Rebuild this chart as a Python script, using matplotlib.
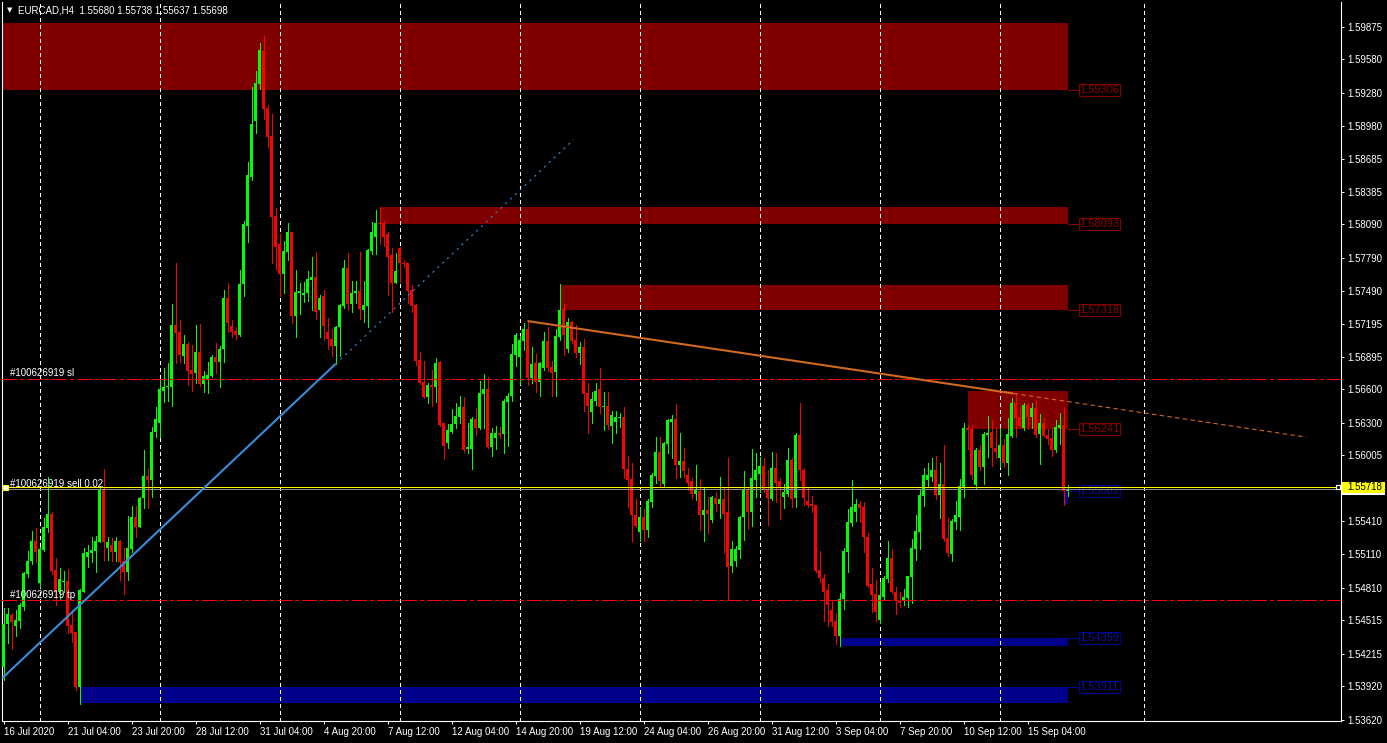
import numpy as np
import matplotlib
matplotlib.use("Agg")
import matplotlib.pyplot as plt
from matplotlib.patches import Rectangle
from matplotlib.transforms import blended_transform_factory

plt.rcParams['font.family'] = ['Liberation Sans', 'DejaVu Sans']

# ---------------- data ----------------
symbol = "EURCAD,H4"
last_ohlc = [1.55680, 1.55738, 1.55637, 1.55698]   # header values of the current bar

# H4 candles, prices in units of 0.0001 (bar 0 = 16 Jul 2020 12:00)
open_e4 = [15409,15448,15456,15446,15451,15464,15493,15505,15523,15485,
           15515,15535,15548,15497,15477,15486,15487,15447,15441,15391,
           15477,15509,15512,15514,15522,15570,15517,15520,15513,15523,
           15505,15495,15516,15545,15536,15562,15582,15578,15622,15630,
           15659,15662,15662,15718,15712,15690,15701,15678,15675,15694,
           15665,15669,15672,15689,15685,15697,15743,15717,15713,15709,
           15755,15808,15852,15902,15936,15966,15914,15889,15817,15791,
           15764,15784,15802,15726,15747,15745,15747,15759,15762,15732,
           15744,15712,15706,15699,15716,15735,15770,15737,15747,15749,
           15732,15735,15785,15798,15810,15810,15800,15781,15756,15788,
           15774,15774,15750,15736,15687,15667,15653,15664,15662,15685,
           15630,15612,15622,15629,15635,15644,15606,15606,15633,15625,
           15656,15660,15608,15616,15621,15620,15649,15654,15691,15689,
           15704,15715,15670,15684,15667,15679,15704,15680,15676,15707,
           15733,15697,15721,15705,15693,15698,15657,15640,15650,15660,
           15644,15645,15627,15631,15634,15635,15588,15579,15547,15531,
           15545,15533,15558,15582,15604,15575,15611,15631,15633,15592,
           15595,15583,15577,15566,15568,15547,15551,15542,15562,15557,
           15561,15549,15501,15505,15515,15545,15569,15549,15578,15584,
           15591,15570,15561,15589,15577,15563,15566,15596,15562,15619,
           15587,15559,15557,15556,15497,15490,15479,15461,15451,15437,
           15471,15513,15539,15549,15557,15554,15527,15484,15475,15452,
           15473,15489,15508,15477,15469,15469,15472,15491,15516,15531,
           15564,15578,15581,15587,15565,15575,15526,15511,15540,15545,
           15572,15625,15624,15574,15605,15590,15619,15622,15607,15598,
           15610,15594,15618,15648,15635,15625,15646,15635,15643,15620,
           15630,15619,15616,15605,15625,15628,15568]
high_e4 = [15463,15463,15458,15461,15467,15495,15514,15532,15535,15518,
           15544,15581,15549,15508,15499,15496,15498,15461,15441,15480,
           15517,15520,15527,15528,15571,15588,15527,15526,15527,15524,
           15517,15546,15555,15555,15563,15605,15589,15626,15644,15669,
           15679,15684,15737,15774,15723,15709,15703,15700,15718,15719,
           15677,15685,15691,15702,15699,15750,15756,15723,15716,15768,
           15812,15865,15933,15948,15973,15979,15917,15909,15824,15800,
           15794,15810,15802,15768,15756,15757,15767,15780,15784,15745,
           15750,15725,15715,15717,15737,15777,15783,15758,15758,15784,
           15758,15787,15811,15822,15825,15812,15802,15788,15783,15789,
           15777,15774,15754,15737,15694,15686,15666,15678,15688,15686,
           15630,15629,15642,15648,15654,15653,15630,15635,15643,15668,
           15674,15671,15625,15627,15626,15651,15657,15701,15711,15708,
           15720,15722,15698,15692,15685,15712,15716,15686,15715,15755,
           15737,15725,15722,15718,15703,15706,15666,15658,15666,15679,
           15658,15658,15641,15641,15639,15644,15600,15594,15561,15554,
           15552,15561,15585,15617,15617,15613,15633,15637,15647,15621,
           15607,15589,15580,15592,15579,15572,15563,15564,15567,15581,
           15572,15598,15523,15519,15546,15586,15572,15606,15603,15599,
           15598,15587,15604,15603,15580,15575,15607,15598,15621,15648,
           15589,15572,15564,15556,15514,15493,15484,15469,15458,15476,
           15517,15552,15578,15561,15559,15558,15530,15499,15488,15486,
           15492,15523,15516,15482,15477,15480,15492,15525,15547,15570,
           15589,15594,15598,15600,15594,15610,15544,15543,15559,15579,
           15630,15628,15628,15607,15610,15622,15636,15632,15625,15625,
           15615,15634,15652,15657,15644,15648,15648,15648,15650,15638,
           15634,15624,15625,15632,15639,15644,15574]
low_e4 = [15398,15431,15426,15437,15445,15461,15491,15502,15504,15482,
          15514,15531,15493,15465,15470,15477,15440,15432,15389,15376,
          15477,15500,15504,15495,15522,15506,15506,15505,15505,15488,
          15475,15488,15513,15527,15536,15553,15553,15563,15617,15617,
          15649,15650,15645,15684,15685,15684,15664,15659,15666,15663,
          15658,15657,15671,15675,15662,15685,15712,15707,15706,15708,
          15744,15793,15849,15892,15931,15904,15879,15774,15769,15744,
          15747,15777,15720,15707,15728,15739,15740,15732,15724,15707,
          15705,15697,15690,15683,15690,15734,15732,15730,15738,15724,
          15721,15716,15782,15782,15791,15790,15745,15730,15756,15757,
          15771,15738,15730,15682,15665,15652,15648,15645,15649,15627,
          15597,15607,15621,15625,15630,15604,15603,15588,15619,15624,
          15625,15607,15600,15606,15616,15603,15609,15650,15681,15665,
          15696,15664,15666,15658,15654,15678,15677,15654,15654,15705,
          15691,15694,15702,15689,15683,15641,15621,15630,15646,15639,
          15623,15624,15612,15621,15626,15580,15554,15523,15536,15523,
          15523,15527,15554,15576,15572,15572,15603,15598,15580,15581,
          15581,15569,15562,15560,15533,15523,15530,15540,15550,15544,
          15512,15470,15495,15501,15508,15524,15534,15537,15563,15567,
          15567,15538,15560,15558,15543,15553,15564,15554,15554,15578,
          15556,15554,15549,15495,15486,15451,15446,15446,15430,15428,
          15462,15495,15537,15541,15540,15513,15482,15459,15451,15449,
          15470,15486,15476,15457,15464,15465,15464,15467,15506,15516,
          15555,15572,15577,15561,15544,15523,15510,15505,15534,15533,
          15563,15606,15579,15570,15587,15575,15599,15591,15598,15590,
          15590,15583,15617,15617,15625,15623,15624,15625,15617,15593,
          15617,15611,15600,15604,15611,15556,15564]
close_e4 = [15448,15457,15450,15452,15465,15494,15505,15523,15513,15516,
            15536,15548,15496,15477,15489,15487,15446,15440,15391,15479,
            15512,15513,15515,15523,15570,15522,15522,15513,15523,15504,
            15495,15517,15545,15536,15562,15582,15578,15622,15633,15660,
            15662,15663,15718,15711,15691,15701,15677,15674,15694,15665,
            15672,15673,15689,15685,15697,15743,15720,15712,15709,15755,
            15809,15854,15900,15937,15967,15913,15888,15816,15789,15764,
            15785,15802,15726,15748,15749,15747,15760,15762,15730,15743,
            15717,15706,15699,15716,15736,15770,15737,15747,15749,15733,
            15736,15786,15802,15810,15809,15798,15780,15756,15767,15774,
            15773,15749,15735,15686,15666,15653,15664,15662,15684,15628,
            15609,15623,15629,15636,15644,15605,15608,15633,15625,15657,
            15660,15608,15621,15621,15619,15650,15654,15692,15709,15705,
            15715,15670,15683,15667,15684,15704,15679,15675,15708,15732,
            15709,15721,15704,15693,15698,15656,15645,15651,15659,15644,
            15645,15628,15637,15635,15635,15588,15578,15547,15537,15545,
            15533,15559,15583,15604,15577,15612,15632,15633,15592,15595,
            15586,15576,15566,15569,15547,15551,15548,15563,15557,15561,
            15548,15500,15516,15516,15545,15569,15549,15580,15587,15591,
            15569,15562,15589,15576,15572,15567,15596,15561,15619,15587,
            15562,15556,15555,15496,15490,15477,15465,15450,15437,15471,
            15514,15540,15554,15557,15553,15527,15483,15474,15459,15474,
            15490,15508,15477,15469,15467,15473,15492,15517,15532,15565,
            15583,15583,15587,15565,15575,15525,15512,15541,15547,15573,
            15625,15623,15583,15605,15590,15620,15621,15607,15604,15610,
            15594,15620,15648,15634,15627,15646,15635,15643,15619,15630,
            15618,15615,15605,15626,15628,15568,15570]

date_tick_bars = [0, 16, 32, 48, 64, 80, 96, 112, 128, 144, 160, 176, 192, 208, 224, 240, 256]
date_tick_labels = ["16 Jul 2020", "21 Jul 04:00", "23 Jul 20:00", "28 Jul 12:00",
                    "31 Jul 04:00", "4 Aug 20:00", "7 Aug 12:00", "12 Aug 04:00",
                    "14 Aug 20:00", "19 Aug 12:00", "24 Aug 04:00", "26 Aug 20:00",
                    "31 Aug 12:00", "3 Sep 04:00", "7 Sep 20:00", "10 Sep 12:00",
                    "15 Sep 04:00"]
week_sep_bars = [9, 39, 69, 99, 129, 159, 189, 219, 249, 285]
price_ticks = [1.59875, 1.59580, 1.59280, 1.58980, 1.58685, 1.58385, 1.58090,
               1.57790, 1.57490, 1.57195, 1.56895, 1.56600, 1.56300, 1.56005,
               1.55410, 1.55110, 1.54810, 1.54515, 1.54215, 1.53920, 1.53620]

# zones: (start bar, top price, bottom price)
supply_zones = [(-1, 1.59910, 1.59306), (94, 1.58248, 1.58093),
                (139, 1.57544, 1.57318), (241, 1.56586, 1.56241)]
demand_zones = [(19, 1.53911, 1.53766), (209, 1.54359, 1.54286),
                (265, 1.55682, 1.55566)]
zone_end_bar = 266

order_id = "#100626919"
order_lots = "0.02"
order_open = 1.55718
order_sl = 1.56699
order_tp = 1.54697

# trend lines: anchor bars / prices
orange_bars = [131, 252.5]
orange_prices = [1.57218, 1.56564]
orange_ext_bar = 325.7
blue_bars = [-0.3, 83]
blue_prices = [1.53994, 1.56830]
blue_ext_bar = 142.5

# ---------------- styling ----------------
BULL = '#00FF00'
BEAR = '#FF0000'
ZRED = '#800000'
ZBLUE = '#00008B'
ZRED_TXT = '#8B0000'
ZBLUE_TXT = '#1010A0'

W, H = 1387, 743
fig = plt.figure(figsize=(W / 100, H / 100), dpi=100, facecolor='black')
ax = fig.add_axes([2 / W, 22 / H, 1339 / W, 719 / H])
ax.set_facecolor('black')
ax.set_xlim(-0.375, 334.375)
ax.set_ylim(1.536065, 1.600990)
px = (1.600990 - 1.536065) / 719.0   # price per pixel

o = np.array(open_e4, float) / 1e4
h = np.array(high_e4, float) / 1e4
l = np.array(low_e4, float) / 1e4
c = np.array(close_e4, float) / 1e4
o[-1], h[-1], l[-1], c[-1] = last_ohlc
n = len(o)
x = np.arange(n)

# zones
for (sb, top, bot) in supply_zones:
    ax.add_patch(Rectangle((sb, bot), zone_end_bar - sb, top - bot,
                           facecolor=ZRED, edgecolor='none', zorder=1))
for (sb, top, bot) in demand_zones:
    ax.add_patch(Rectangle((sb, bot), zone_end_bar - sb, top - bot,
                           facecolor=ZBLUE, edgecolor='none', zorder=1))

# weekly separators
ax.vlines(week_sep_bars, 1.536065, 1.600990, colors='white', lw=0.72,
          linestyles=(0, (3, 3)), antialiased=False, zorder=2)

# candles
up = c >= o
cols = np.where(up, BULL, BEAR)
lo_b = np.minimum(o, c)
hi_b = np.maximum(o, c)
hgt = np.maximum(hi_b - lo_b, px)
ax.vlines(x, l, h, colors=cols, lw=0.72, antialiased=False, zorder=3)
ax.bar(x, hgt, width=0.75, bottom=lo_b, color=cols, lw=0, antialiased=False, zorder=4)

# order lines
dashdot = (0, (14, 4, 3, 4))
ax.axhline(order_sl, color='#FF0000', lw=0.72, linestyle=dashdot, antialiased=False, zorder=5)
ax.axhline(order_tp, color='#FF0000', lw=0.72, linestyle=dashdot, antialiased=False, zorder=5)
ax.axhline(c[-1], color='#8C8C8C', lw=0.72, antialiased=False, zorder=5)
ax.axhline(order_open, color='#FFFF00', lw=0.72, antialiased=False, zorder=6)
ax.plot([0.4], [order_open], marker='s', ms=3.6, mfc='white', mec='#FFFF00', mew=0.8,
        zorder=7, clip_on=False)
ax.plot([333.6], [order_open], marker='s', ms=3.4, mfc='black', mec='white', mew=0.9,
        zorder=7, clip_on=False)

lbl_kw = dict(color='white', fontsize=7, ha='left', va='baseline',
              textcoords='offset points', zorder=8)
ax.annotate(f"{order_id} sl", xy=(1.6, order_sl), xytext=(0, 1.6), **lbl_kw)
ax.annotate(f"{order_id} sell {order_lots}", xy=(1.6, order_open), xytext=(0, 0.4), **lbl_kw)
ax.annotate(f"{order_id} tp", xy=(1.6, order_tp), xytext=(0, 1.6), **lbl_kw)

# trend lines
slope_o = (orange_prices[1] - orange_prices[0]) / (orange_bars[1] - orange_bars[0])
ax.plot(orange_bars, orange_prices, color='#D2691E', lw=1.5, zorder=6,
        solid_capstyle='butt')
ax.plot([orange_bars[1], orange_ext_bar],
        [orange_prices[1], orange_prices[1] + slope_o * (orange_ext_bar - orange_bars[1])],
        color='#D2691E', lw=0.8, linestyle=(0, (4, 3)), zorder=6)
slope_b = (blue_prices[1] - blue_prices[0]) / (blue_bars[1] - blue_bars[0])
ax.plot(blue_bars, blue_prices, color='#3A8CDC', lw=1.5, zorder=6, solid_capstyle='butt')
ax.plot([blue_bars[1], blue_ext_bar],
        [blue_prices[1], blue_prices[1] + slope_b * (blue_ext_bar - blue_bars[1])],
        color='#3A8CDC', lw=0.8, linestyle=(0, (2, 4)), zorder=6)

# zone price labels
lab_x0, lab_w = 268.75, 10.25
lab_h = 12 * px
for zones, col, tcol, idx in ((supply_zones, ZRED, ZRED_TXT, 2), (demand_zones, ZBLUE, ZBLUE_TXT, 1)):
    for z in zones:
        lp = z[idx]
        ax.plot([zone_end_bar, lab_x0], [lp, lp], color=col, lw=0.8, zorder=2)
        ax.add_patch(Rectangle((lab_x0, lp - lab_h / 2), lab_w, lab_h, fill=False,
                               edgecolor=col, lw=0.8, zorder=2))
        ax.text(lab_x0 + lab_w / 2, lp, f"{lp:.5f}", color=tcol, fontsize=8,
                ha='center', va='center', zorder=3)

# axes / ticks
for s in ('left', 'bottom', 'right'):
    ax.spines[s].set_color('white')
    ax.spines[s].set_linewidth(0.8)
ax.spines['top'].set_visible(False)
ax.yaxis.tick_right()
ax.set_yticks(price_ticks)
ax.set_yticklabels([f"{p:.5f}" for p in price_ticks])
ax.tick_params(axis='y', colors='white', length=2.5, width=0.72, pad=2.2,
               labelsize=7, direction='out')
ax.set_xticks(date_tick_bars)
ax.set_xticklabels(date_tick_labels)
ax.tick_params(axis='x', colors='white', length=2.5, width=0.72, pad=2.0,
               labelsize=7, direction='out')
for t in ax.get_xticklabels():
    t.set_horizontalalignment('left')

# current price tags on the price scale
bt = blended_transform_factory(ax.transAxes, ax.transData)
tag_x0 = (1342 - 2) / 1339
tag_w = 43 / 1339
ax.add_patch(Rectangle((tag_x0, c[-1] - 5.5 * px), tag_w, 11 * px, transform=bt,
                       facecolor='white', edgecolor='none', clip_on=False, zorder=9))
ax.add_patch(Rectangle((tag_x0, order_open - 5.5 * px), tag_w, 11 * px, transform=bt,
                       facecolor='#FFFF00', edgecolor='none', clip_on=False, zorder=10))
ax.text((1347 - 2) / 1339, order_open, f"{order_open:.5f}", transform=bt, color='black',
        fontsize=7, ha='left', va='center', clip_on=False, zorder=11)

# header
fig.text(7 / W, 1 - 10.5 / H, "\u25BC", color='white', fontsize=5, family='DejaVu Sans',
         va='center', ha='left')
fig.text(18 / W, 1 - 10.5 / H,
         f"{symbol}  " + " ".join(f"{v:.5f}" for v in last_ohlc),
         color='white', fontsize=7, va='center', ha='left')

fig.savefig("out.png", dpi=100, facecolor='black')
